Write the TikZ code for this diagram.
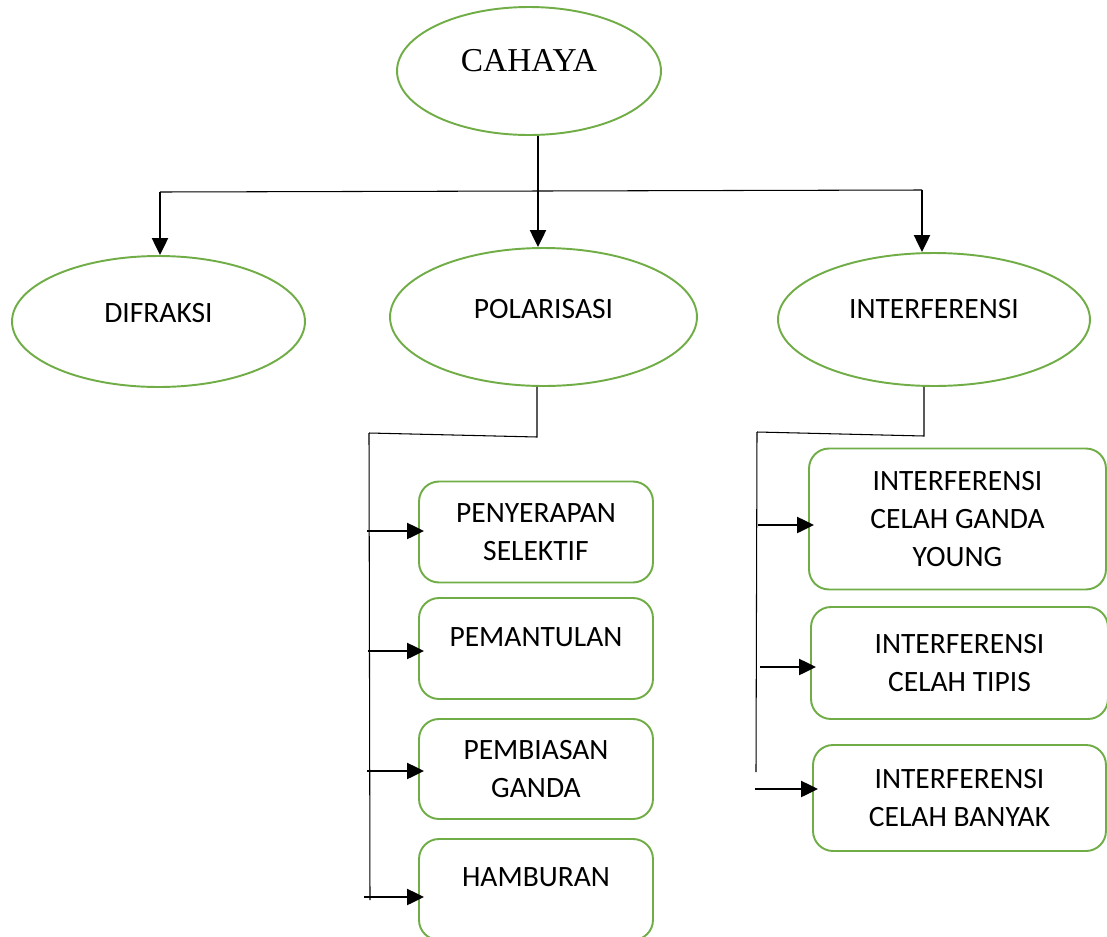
\documentclass[tikz,border=0pt]{standalone}
\usepackage{fontspec}
\setmainfont{Carlito}
\newfontfamily\timesfont{Liberation Serif}
\usetikzlibrary{shapes.geometric,arrows.meta}
\definecolor{ogreen}{HTML}{70AD47}
\tikzset{
	oval/.style={ellipse,draw=ogreen,line width=1.1pt,inner sep=0pt,
		font=\fontsize{16.8}{21.6}\selectfont},
	kotak/.style={rectangle,draw=ogreen,line width=1.1pt,rounded corners=0.4cm,
		align=center,inner sep=0pt,font=\fontsize{16.8}{21.6}\selectfont},
	garis/.style={line width=0.6pt},
	panah/.style={line width=1.3pt,-{Triangle[length=0.34cm,width=0.32cm]}},
	cabang/.style={line width=1.3pt,-{Triangle[length=0.34cm,width=0.32cm]},shorten >=-0.12cm}
}

\begin{document}
\begin{tikzpicture}[x=0.02cm,y=-0.02cm]
			\clip (0,0) rectangle (1107,937);
			\node[oval,minimum width=5.28cm,minimum height=2.56cm,text depth=0.44cm,
				font=\timesfont\fontsize{19}{22}\selectfont] (cahaya) at (529,71) {CAHAYA};
			\node[oval,minimum width=5.86cm,minimum height=2.62cm,text depth=0.36cm] (difraksi) at (158.5,321.5) {DIFRAKSI};
			\node[oval,minimum width=6.14cm,minimum height=2.76cm,text depth=0.32cm] (polarisasi) at (543.5,317) {POLARISASI};
			\node[oval,minimum width=6.24cm,minimum height=2.66cm,text depth=0.44cm] (interferensi) at (934,319.5) {INTERFERENSI};
			\coordinate (bLeft) at (160,192);
			\coordinate (bMid) at (538,191);
			\coordinate (bRight) at (922,190);
			\draw[garis] (bLeft) -- (bRight);
			\draw[panah] (cahaya.south -| bMid) -- (bMid |- polarisasi.north);
			\draw[panah] (bLeft) -- (bLeft |- difraksi.north);
			\draw[panah] (bRight) -- (bRight |- interferensi.north);
			\node[kotak,minimum width=4.68cm,minimum height=2.02cm] (pSelektif) at (536,532) {PENYERAPAN\\SELEKTIF};
			\node[kotak,minimum width=4.68cm,minimum height=2.02cm,text depth=0.46cm] (pPantul) at (536,648.5) {PEMANTULAN};
			\node[kotak,minimum width=4.68cm,minimum height=2cm] (pBias) at (536,769) {PEMBIASAN\\GANDA};
			\node[kotak,minimum width=4.68cm,minimum height=2.02cm,text depth=0.5cm] (pHambur) at (536,889.5) {HAMBURAN};
			\coordinate (pKnee) at (537,437);
			\coordinate (pTop) at (369,433);
			\coordinate (pBottom) at (370,900);
			\draw[garis] (pKnee |- polarisasi.south) -- (pKnee) -- (pTop);
			\draw[garis] (pTop) -- (pBottom);
			\coordinate (pA1) at (367,531);
			\coordinate (pA2) at (368,651);
			\coordinate (pA3) at (367,771);
			\coordinate (pA4) at (364,897);
			\draw[cabang] (pA1) -- (pA1 -| pSelektif.west);
			\draw[cabang] (pA2) -- (pA2 -| pPantul.west);
			\draw[cabang] (pA3) -- (pA3 -| pBias.west);
			\draw[cabang] (pA4) -- (pA4 -| pHambur.west);
			\node[kotak,minimum width=5.94cm,minimum height=2.82cm] (iYoung) at (957.5,519) {INTERFERENSI\\CELAH GANDA\\YOUNG};
			\node[kotak,minimum width=5.94cm,minimum height=2.24cm] (iTipis) at (959.5,663) {INTERFERENSI\\CELAH TIPIS};
			\node[kotak,minimum width=5.86cm,minimum height=2.12cm] (iBanyak) at (959.5,798) {INTERFERENSI\\CELAH BANYAK};
			\coordinate (iKnee) at (924,436);
			\coordinate (iTop) at (757,432);
			\coordinate (iBottom) at (756,772);
			\draw[garis] (iKnee |- interferensi.south) -- (iKnee) -- (iTop);
			\draw[garis] (iTop) -- (iBottom);
			\coordinate (iA1) at (758,525);
			\coordinate (iA2) at (760,667);
			\coordinate (iA3) at (755,789);
			\draw[cabang] (iA1) -- (iA1 -| iYoung.west);
			\draw[cabang] (iA2) -- (iA2 -| iTipis.west);
			\draw[cabang] (iA3) -- (iA3 -| iBanyak.west);
		\end{tikzpicture}
\end{document}
